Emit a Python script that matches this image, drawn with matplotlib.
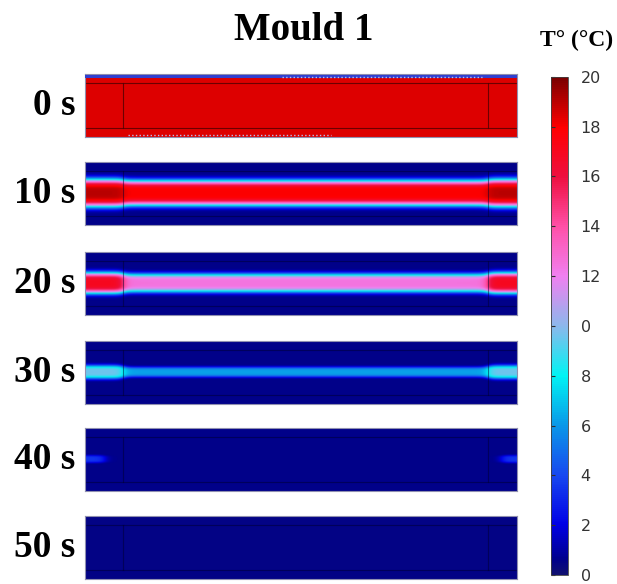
import numpy as np
import matplotlib
matplotlib.use('Agg')
import matplotlib.pyplot as plt
from matplotlib.colors import LinearSegmentedColormap

# Temperature snapshots of the mould (in °C)
times = ['0 s', '10 s', '20 s', '30 s', '40 s', '50 s']
base_temp = [18.5, 0.6, 0.6, 0.6, 0.6, 0.5]     # outer region
core_temp = [18.5, 18.0, 12.5, 6.2, 0.6, 0.5]   # centre channel, mid length
cap_temp = [18.5, 19.0, 17.0, 9.6, 3.5, 0.5]    # centre channel, end caps
core_width = [1.0, 0.40, 0.30, 0.16, 0.10, 0.10]
cap_width = [1.0, 0.44, 0.34, 0.22, 0.12, 0.10]
cap_left = [0.088, 0.088, 0.088, 0.088, 0.045, 0.0]
cap_right = [0.933, 0.933, 0.933, 0.933, 0.965, 1.0]

cbar_ticks = [0, 2, 4, 6, 8, 10, 12, 14, 16, 18, 20]
cbar_labels = ['0', '2', '4', '6', '8', '0', '12', '14', '16', '18', '20']

# colour map similar to the COMSOL one
stops = [(0.00, '#101070'), (0.03, '#00008c'), (0.10, '#0000e6'),
         (0.20, '#1848f0'), (0.30, '#0a98e8'), (0.40, '#00f4f4'),
         (0.50, '#8cb8ec'), (0.60, '#f080f0'), (0.70, '#ff50a8'),
         (0.80, '#ee1040'), (0.90, '#ff0000'), (1.00, '#7a0000')]
cmap = LinearSegmentedColormap.from_list('thermal', stops)

fig = plt.figure(figsize=(6.17, 5.84), dpi=100)
serif = ['Liberation Serif', 'DejaVu Serif']

panel_bottoms = [0.7654, 0.6147, 0.4606, 0.3082, 0.1592, 0.0086]
x = np.linspace(0, 1, 600)
y = np.linspace(-1, 1, 240)
X, Y = np.meshgrid(x, y)

for i, t in enumerate(times):
    ax = fig.add_axes([0.1378, panel_bottoms[i], 0.700, 0.108])
    # weight for the end caps
    s = 1 / (1 + np.exp((X - cap_left[i]) / 0.006)) + 1 / (1 + np.exp((cap_right[i] - X) / 0.006))
    peak = core_temp[i] + (cap_temp[i] - core_temp[i]) * s
    w = core_width[i] + (cap_width[i] - core_width[i]) * s
    T = base_temp[i] + (peak - base_temp[i]) * np.exp(-(np.abs(Y) / w) ** 4)
    im = ax.imshow(T, cmap=cmap, vmin=0, vmax=20, extent=[0, 1, -1, 1],
                   aspect='auto', origin='lower', interpolation='bilinear')
    lc = '#500000' if i == 0 else '#000030'
    la = 0.8 if i == 0 else 0.5
    ax.axhline(0.72, color=lc, lw=0.8, alpha=la)
    ax.axhline(-0.72, color=lc, lw=0.8, alpha=la)
    ax.axvline(0.088, ymin=0.14, ymax=0.86, color=lc, lw=0.8, alpha=la)
    ax.axvline(0.933, ymin=0.14, ymax=0.86, color=lc, lw=0.8, alpha=la)
    if i == 0:
        ax.axhline(0.95, color='#3040d0', lw=2.2, zorder=3)
        ax.axhline(0.90, xmin=0.455, xmax=0.92, color='#b8c0f0', lw=1, ls=':', zorder=3)
        ax.axhline(-0.95, xmin=0.1, xmax=0.57, color='#b8c0f0', lw=1, ls=':', zorder=3)
    ax.set_xlim(0, 1)
    ax.set_ylim(-1, 1)
    ax.set_xticks([])
    ax.set_yticks([])
    for sp in ax.spines.values():
        sp.set_color('#9090b0')
        sp.set_linewidth(0.8)
    fig.text(0.122, panel_bottoms[i] + 0.054, t, ha='right', va='center',
             fontsize=27, fontweight='bold', family=serif)

fig.text(0.493, 0.947, 'Mould 1', ha='center', va='center',
         fontsize=28, fontweight='bold', family=serif)
fig.text(0.934, 0.930, 'T° (°C)', ha='center', va='center',
         fontsize=17, fontweight='bold', family=serif)

cax = fig.add_axes([0.893, 0.0154, 0.0276, 0.853])
cb = fig.colorbar(im, cax=cax, ticks=cbar_ticks)
cb.ax.set_yticklabels(cbar_labels)
cb.ax.tick_params(left=True, right=False, labelleft=False, labelright=True,
                  direction='in', length=3, width=0.8, color='#303030',
                  labelsize=11.5, labelcolor='#333333', pad=9)
cb.outline.set_edgecolor('#404040')
cb.outline.set_linewidth(0.6)

fig.savefig('out.png', dpi=100)
